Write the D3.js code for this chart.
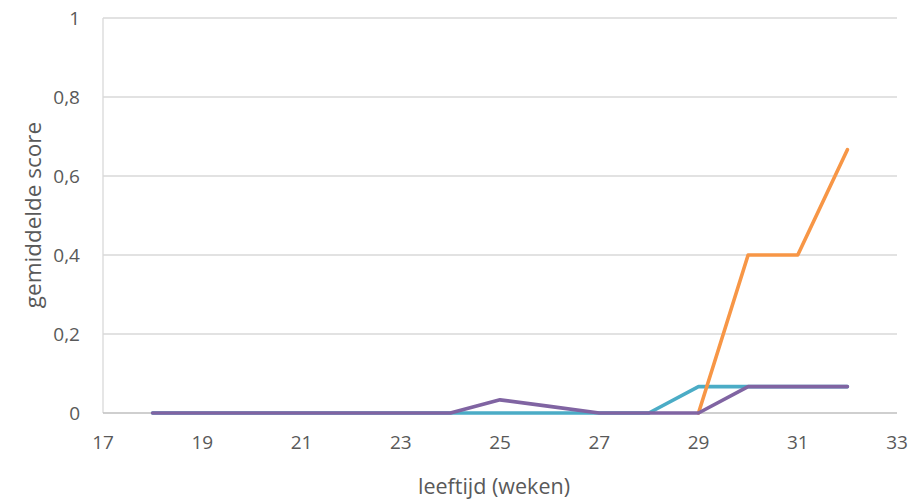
<!DOCTYPE html>
<html><head><meta charset="utf-8">
<script src="https://cdn.jsdelivr.net/npm/d3@7"></script>
<style>body{margin:0;background:#fff}svg{display:block}text{font-family:"Open Sans","Liberation Sans",sans-serif;fill:#595959}</style>
</head><body><svg id="c" width="922" height="501"></svg>
<script>
const weeks = [18,19,20,21,22,23,24,25,26,27,28,29,30,31,32];
const seriesTeal   = [0,0,0,0,0,0,0,0,0,0,0,0.0667,0.0667,0.0667,0.0667];
const seriesOrange = [null,null,null,null,null,null,null,null,null,null,null,0,0.4,0.4,0.6667];
const seriesPurple = [0,0,0,0,0,0,0,0.0333,0.0167,0,0,0,0.0667,0.0667,0.0667];
const xTicks = [17,19,21,23,25,27,29,31,33];
const yTicks = [0,0.2,0.4,0.6,0.8,1];
const colors = {teal:"#4BACC6", orange:"#F79646", purple:"#8064A2"};

const svg = d3.select("#c");
const x = d3.scaleLinear().domain([17,33]).range([103,897]);
const y = d3.scaleLinear().domain([0,1]).range([413,18]);
const fmt = v => String(v).replace(".", ",");

svg.append("g").selectAll("line").data(yTicks.filter(d=>d>0)).join("line")
  .attr("x1",x(17)).attr("x2",x(33)).attr("y1",d=>y(d)).attr("y2",d=>y(d))
  .attr("stroke","#D9D9D9").attr("stroke-width",1.3);
svg.append("line").attr("x1",x(17)).attr("x2",x(17)).attr("y1",y(1)).attr("y2",y(0)).attr("stroke","#D9D9D9").attr("stroke-width",1.3);
svg.append("line").attr("x1",x(17)).attr("x2",x(33)).attr("y1",y(0)).attr("y2",y(0)).attr("stroke","#BFBFBF").attr("stroke-width",1.3);

svg.append("g").selectAll("text").data(yTicks).join("text")
  .attr("x",80).attr("y",d=>y(d)).attr("dy","0.36em").attr("text-anchor","end")
  .attr("font-size",19).text(fmt);
svg.append("g").selectAll("text").data(xTicks).join("text")
  .attr("x",d=>x(d)).attr("y",442).attr("dy","0.36em").attr("text-anchor","middle")
  .attr("font-size",19).text(d=>d);
svg.append("text").attr("x",494).attr("y",486).attr("dy","0.36em").attr("text-anchor","middle").attr("font-size",21.5).text("leeftijd (weken)");
svg.append("text").attr("transform","translate(33,215) rotate(-90)").attr("dy","0.36em").attr("text-anchor","middle").attr("font-size",22.5).text("gemiddelde score");

const line = d3.line().defined(d=>d!==null).x((d,i)=>x(weeks[i])).y(d=>y(d));
[[seriesTeal,colors.teal],[seriesOrange,colors.orange],[seriesPurple,colors.purple]].forEach(([s,c])=>{
  svg.append("path").datum(s).attr("d",line).attr("fill","none").attr("stroke",c)
    .attr("stroke-width",3.6).attr("stroke-linecap","round").attr("stroke-linejoin","round");
});
</script></body></html>
